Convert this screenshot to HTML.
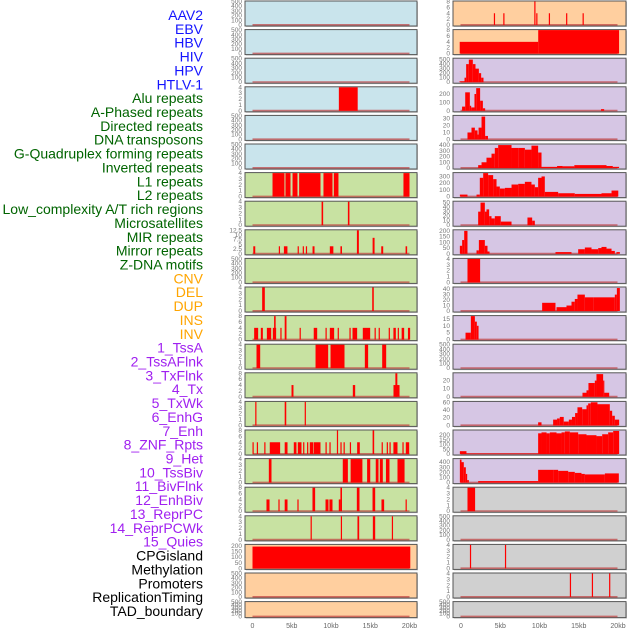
<!DOCTYPE html>
<html><head><meta charset="utf-8"><style>
html,body{margin:0;padding:0;background:#fff;width:630px;height:630px;overflow:hidden}
svg{display:block}
</style></head><body>
<svg id="chart" width="630" height="630" xmlns="http://www.w3.org/2000/svg" font-family="Liberation Sans, sans-serif"></svg>
<script>
const trackLabels=["AAV2","EBV","HBV","HIV","HPV","HTLV-1","Alu repeats","A-Phased repeats","Directed repeats","DNA transposons","G-Quadruplex forming repeats","Inverted repeats","L1 repeats","L2 repeats","Low_complexity A/T rich regions","Microsatellites","MIR repeats","Mirror repeats","Z-DNA motifs","CNV","DEL","DUP","INS","INV","1_TssA","2_TssAFlnk","3_TxFlnk","4_Tx","5_TxWk","6_EnhG","7_Enh","8_ZNF_Rpts","9_Het","10_TssBiv","11_BivFlnk","12_EnhBiv","13_ReprPC","14_ReprPCWk","15_Quies","CPGisland","Methylation","Promoters","ReplicationTiming","TAD_boundary"];
const labelGroups=[6,13,5,15,5];
const groupColors=["#1414ff","#006400","#ffa500","#a020f0","#000000"];
const xTickLabels=["0","5kb","10kb","15kb","20kb"];
const xTickValues=[0,5,10,15,20];

// middle column: [start kb, end kb, value]
const mid0=[],mid1=[],mid2=[],mid4=[],mid5=[],mid9=[],mid20=[],mid21=[];
const mid3=[[11.0,13.4,4]];
const mid6=[[2.55,4.07,4],[4.2,4.84,4],[5.1,5.73,4],[5.94,8.66,4],[9.04,10.19,4],[10.36,10.95,4],[19.23,20.0,4]];
const mid7=[[8.8,9.0,4],[12.15,12.35,4]];
const mid8=[[0.1,0.35,4],[3.35,3.5,4],[4.0,4.45,4],[5.75,5.9,4],[6.4,6.55,4],[6.8,6.95,4],[7.65,7.9,4],[9.85,10.3,4],[11.2,11.4,4],[13.3,13.55,12.5],[15.3,15.55,8.5],[16.4,16.65,4],[19.5,19.7,4]];
const mid10=[[1.23,1.57,4],[15.25,15.45,4]];
const mid11=[[0.21,0.72,4],[1.06,1.32,4],[1.83,2.38,4],[2.59,3.01,4],[2.75,2.95,8],[3.55,3.7,4],[4.1,4.33,8],[6.0,6.15,4],[7.8,8.24,4],[9.3,9.45,4],[9.85,10.4,4],[10.85,11.0,4],[12.35,12.5,4],[12.74,13.33,4],[14.05,14.99,4],[15.55,15.7,4],[16.07,16.2,4],[17.35,17.5,4],[17.95,18.26,4],[18.5,18.65,4],[19.0,19.32,4],[19.8,20.08,4]];
const mid12=[[0.51,0.98,4],[8.03,9.64,4],[9.94,11.72,4],[14.31,14.73,4],[16.52,17.03,4]];
const mid13=[[4.97,5.22,4],[12.78,13.08,4],[17.96,18.73,4],[18.2,18.45,8]];
const mid14=[[0.35,0.5,4],[4.1,4.3,4],[6.65,6.8,4]];
const mid15=[[0,0.15,4],[0.55,0.7,4],[1.5,1.65,4],[2.2,3.52,4],[4.1,4.46,4],[5.26,5.6,4],[5.77,6.24,4],[6.45,6.6,4],[6.95,7.1,4],[7.3,7.73,4],[7.8,8.66,4],[9.3,9.45,4],[9.8,9.95,4],[10.75,10.9,8],[11.2,11.35,4],[11.6,11.75,4],[12.4,12.55,4],[13.33,13.67,4],[15.3,15.5,8],[16.45,16.6,4],[17.1,17.25,4],[17.45,17.6,4],[17.95,18.47,4],[19.1,19.25,4],[19.53,19.96,4]];
const mid16=[[2.08,2.42,4],[11.5,12.15,4],[12.5,14.0,4],[14.6,15.0,4],[15.7,16.05,4],[16.22,16.6,4],[17.0,17.45,4],[18.47,19.37,4]];
const mid17=[[1.78,2.17,4],[3.3,3.45,4],[4.1,4.46,4],[5.72,5.87,4],[7.64,7.98,8],[9.3,9.68,4],[9.8,10.19,4],[10.99,11.2,4],[11.2,11.4,8],[13.29,13.63,8],[15.29,15.63,8],[16.43,16.77,4],[19.5,19.65,4]];
const mid18=[[7.4,7.55,4],[11.25,11.4,4],[13.37,13.59,4],[15.33,15.63,4],[17.75,17.9,4]];
const mid19=[[0,20.1,195]];

// right column
const right0=[[4.25,4.4,4],[5.45,5.6,4],[9.4,9.55,8],[9.65,9.8,4],[11.25,11.4,4],[13.45,13.6,4],[15.55,15.7,4]];
const right1=[[-0.1,9.9,4],[9.9,20.2,8]];
const right2=[[-0.13,0.51,20],[0.51,0.72,100],[0.72,1.06,400],[1.06,1.57,500],[1.57,1.91,400],[1.91,2.34,300],[2.34,2.63,200],[2.63,2.93,100]];
const right3=[[0.2,0.6,50],[0.6,1.19,220],[1.19,1.36,60],[1.36,1.78,40],[1.78,2.0,200],[2.0,2.5,270],[2.5,2.85,120],[2.85,3.14,30],[17.9,18.3,20]];
const right4=[[0.89,1.4,10],[1.4,1.83,17],[1.83,2.17,13],[2.17,2.3,7],[2.3,2.68,17],[2.68,3.14,33],[3.14,3.5,5]];
const right5=[[2.25,2.68,50],[2.68,3.31,100],[3.31,3.95,180],[3.95,4.37,250],[4.37,4.8,350],[4.8,6.5,400],[6.5,7.35,350],[7.35,8.2,350],[8.2,9.04,320],[9.04,9.89,390],[9.89,10.32,270],[10.32,12.3,20],[12.3,13.0,35],[13.0,14.5,30],[14.5,18.6,50],[18.6,19.4,35],[19.4,20.2,20]];
const right6=[[-0.08,0.89,30],[2.04,2.46,30],[2.46,2.89,280],[2.89,3.52,350],[3.52,4.16,320],[4.16,4.59,260],[4.59,5.01,150],[5.01,5.65,120],[5.65,6.5,130],[6.5,7.35,180],[7.35,8.2,190],[8.2,9.04,220],[9.04,9.47,180],[9.47,9.89,140],[9.89,10.32,280],[10.32,10.74,300],[10.74,12.44,70],[12.44,14.56,50],[14.56,17.96,40],[17.96,19.24,50],[19.24,20.1,90]];
const right7=[[2.25,2.55,30],[2.55,3.1,50],[3.1,3.31,30],[3.31,3.65,35],[3.65,3.95,20],[3.95,4.37,15],[4.37,5.13,20],[5.13,6.5,8],[8.53,9.13,17],[9.13,9.47,10]];
const right8=[[-0.08,0.21,70],[0.21,0.47,120],[0.47,0.89,200],[2.04,2.34,30],[2.34,3.1,120],[3.1,3.44,70],[3.44,3.7,20],[12.1,14.14,15],[14.99,15.84,40],[15.84,16.69,55],[16.69,17.54,40],[17.54,17.96,50],[17.96,18.6,60],[18.6,19.24,45],[19.24,19.66,25],[19.87,20.3,15]];
const right9=[[0.89,2.5,4]];
const right10=[[10.4,12.1,15],[12.23,13.5,7],[13.5,14.14,10],[14.14,14.56,17],[14.56,14.9,22],[14.9,15.84,30],[15.84,16.9,25],[16.9,19.66,25],[19.66,19.92,30],[19.92,20.3,42]];
const right11=[[0.64,1.32,5],[1.32,1.83,17],[1.83,2.08,13],[2.08,2.3,10]];
const right12=[],right18=[],right21=[];
const right13=[[15.54,16.05,5],[16.05,16.3,8],[16.3,17.11,17],[17.11,17.32,20],[17.32,18.17,28],[18.17,18.3,20],[18.3,18.94,5]];
const right14=[[9.89,10.32,8],[11.8,12.3,15],[12.3,12.65,18],[12.65,13.15,22],[13.15,13.8,10],[13.8,14.2,15],[14.2,14.6,22],[14.6,14.9,32],[14.9,15.5,47],[15.5,16.05,42],[16.05,16.26,52],[16.26,16.6,57],[16.6,17.45,60],[17.45,19.02,55],[19.02,19.32,38],[19.32,19.66,25],[19.66,20.21,15]];
const right15=[[-0.08,0.76,30],[0.76,9.89,5],[9.89,10.32,220],[10.32,10.96,230],[10.96,11.38,220],[11.38,12.23,230],[12.23,12.87,220],[12.87,13.29,230],[13.29,13.93,240],[13.93,14.99,230],[14.99,16.05,210],[16.05,17.32,200],[17.32,18.05,190],[18.05,18.81,210],[18.81,19.45,230],[19.45,20.21,245]];
const right16=[[-0.08,0.13,450],[0.13,0.42,400],[0.42,0.68,300],[0.68,0.85,170],[0.85,1.06,50],[2.25,9.89,30],[9.89,11.8,250],[11.8,12.44,250],[12.44,13.72,230],[13.72,14.56,210],[14.56,15.41,190],[15.41,15.84,170],[15.84,18.39,160],[18.39,20.17,180]];
const right17=[[0.89,1.86,4]];
const right19=[[1.2,1.35,4],[5.66,5.81,4]];
const right20=[[13.93,14.08,4],[16.73,16.88,4],[18.93,19.08,4]];

const midSeries=[mid0,mid1,mid2,mid3,mid4,mid5,mid6,mid7,mid8,mid9,mid10,mid11,mid12,mid13,mid14,mid15,mid16,mid17,mid18,mid19,mid20,mid21];
const rightSeries=[right0,right1,right2,right3,right4,right5,right6,right7,right8,right9,right10,right11,right12,right13,right14,right15,right16,right17,right18,right19,right20,right21];
const T500=[0,100,200,300,400,500],T4=[0,1,2,3,4],T8=[0,2,4,6,8];
const midMax=[500,500,500,4,500,500,4,4,12.5,500,4,8,4,8,4,8,4,8,4,210,500,500];
const midTicks=[T500,T500,T500,T4,T500,T500,T4,T4,[0,2.5,5,7.5,10,12.5],T500,T4,T8,T4,T8,T4,T8,T4,T8,T4,[0,50,100,150,200],T500,T500];
const rightMax=[8,8,520,280,34,410,350,52,205,4,43,17,500,29,61,250,460,4,500,4,4,500];
const rightTicks=[T8,T8,T500,[0,100,200],[0,10,20,30],[0,100,200,300,400],[0,100,200,300],[0,10,20,30,40,50],[0,50,100,150,200],T4,[0,10,20,30,40],[0,5,10,15],T500,[0,10,20],[0,20,40,60],[0,50,100,150,200],[0,100,200,300,400],T4,T500,T4,T4,T500];
const midBg=["#c9e4ec","#c9e4ec","#c9e4ec","#c9e4ec","#c9e4ec","#c9e4ec","#c8e2a2","#c8e2a2","#c8e2a2","#c8e2a2","#c8e2a2","#c8e2a2","#c8e2a2","#c8e2a2","#c8e2a2","#c8e2a2","#c8e2a2","#c8e2a2","#c8e2a2","#ffcf9f","#ffcf9f","#ffcf9f"];
const rightBg=["#ffcf9f","#ffcf9f","#d6c6e4","#d6c6e4","#d6c6e4","#d6c6e4","#d6c6e4","#d6c6e4","#d6c6e4","#d6c6e4","#d6c6e4","#d6c6e4","#d6c6e4","#d6c6e4","#d6c6e4","#d6c6e4","#d6c6e4","#d0d0d0","#d0d0d0","#d0d0d0","#d0d0d0","#d0d0d0"];

const NS="http://www.w3.org/2000/svg";
const svg=document.getElementById('chart');
function mk(tag,attrs,parent){const e=document.createElementNS(NS,tag);for(const k in attrs)e.setAttribute(k,attrs[k]);(parent||svg).appendChild(e);return e;}

// labels
let li=0;
labelGroups.forEach((n,g)=>{for(let j=0;j<n;j++){const t=mk('text',{x:203,y:20+li*13.86,'text-anchor':'end','font-size':14,fill:groupColors[g]});


t.textContent=trackLabels[li];li++;}});

function panel(col,i,series,ymax,ticks,bg){
  const x0=col===0?245:453, w=col===0?172:173, zero=x0+7.5, sc=7.85;
  const top=1+i*28.6, h=i===21?16:25;
  const xs=kb=>zero+kb*sc;
  const ys=v=>top+h-1-(v/ymax)*(h-1.5);
  const g=mk('g',{});
  
  
  mk('rect',{x:x0+1,y:top+1,width:w,height:h,fill:'#999',opacity:0.5},g);
  mk('rect',{x:x0,y:top,width:w,height:h,fill:bg,stroke:'#555','stroke-width':1},g);
  mk('line',{x1:xs(0),x2:xs(20),y1:top+h-1.2,y2:top+h-1.2,stroke:'#c04040','stroke-width':1.6,opacity:0.7},g);
  series.forEach(b=>{const r=mk('rect',{x:xs(b[0]),y:ys(b[2]),width:Math.max(1.2,xs(b[1])-xs(b[0])),height:ys(0)-ys(b[2]),fill:'#ff0000'},g);
    
    });
  ticks.forEach(tv=>{const t=mk('text',{x:x0-3,y:ys(tv)+2,'text-anchor':'end','font-size':6.5,fill:'#777'},g);
    
    
    t.textContent=String(tv);});
}
for(let i=0;i<22;i++){panel(0,i,midSeries[i],midMax[i],midTicks[i],midBg[i]);panel(1,i,rightSeries[i],rightMax[i],rightTicks[i],rightBg[i]);}
[252.5,461].forEach((z,c)=>{xTickValues.forEach((v,k)=>{const t=mk('text',{x:z+v*7.85,y:628,'text-anchor':'middle','font-size':7,fill:'#666'});
  
  
  t.textContent=xTickLabels[k];});});
</script>
</body></html>
